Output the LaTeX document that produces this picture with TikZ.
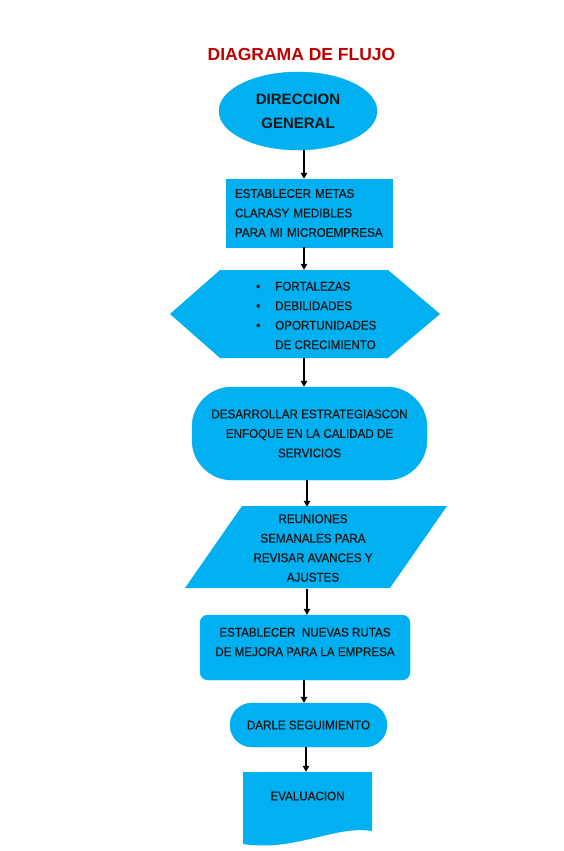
\documentclass[tikz,border=0pt]{standalone}
\usepackage{fontspec}
\setmainfont{Liberation Sans}
\newfontfamily\narrowfont[FakeStretch=0.93,FakeBold=0.4]{Liberation Sans}
\usetikzlibrary{shapes.geometric,arrows.meta}
\definecolor{boxblue}{HTML}{00B0F0}
\definecolor{titlered}{HTML}{C00000}
\definecolor{ink}{HTML}{161616}
\tikzset{
  shapefill/.style={fill=boxblue, draw=boxblue},
  boxtext/.style={font=\narrowfont\fontsize{12.5}{19.5}\selectfont, text=ink, align=center, inner sep=0pt},
  arr/.style={draw=black, line width=1.3pt, -{Triangle[length=6pt,width=6.5pt]}},
  ghost/.style={draw=none, inner sep=0pt},
}
\begin{document}
\begin{tikzpicture}[x=1pt,y=-1pt]
\fill[white] (0,0) rectangle (564,851);
\useasboundingbox (0,0) rectangle (564,851);

\node[font=\bfseries\fontsize{17.5}{20}\selectfont, text=titlered, inner sep=0pt] (title) at (301.5,54) {DIAGRAMA DE FLUJO};

\node[ellipse, shapefill, minimum width=158pt, minimum height=78pt, inner sep=0pt,
      font=\bfseries\fontsize{15}{24}\selectfont, text=ink, align=center] (dir) at (298,111) {DIRECCION\\GENERAL};

\node[rectangle, shapefill, minimum width=166pt, minimum height=68pt, boxtext, text width=148pt, align=left] (metas) at (309,213)
  {ESTABLECER METAS\\CLARASY MEDIBLES\\PARA MI MICROEMPRESA};

\fill[boxblue] (170,314) -- (220,270) -- (388,270) -- (440,314) -- (388,358) -- (220,358) -- cycle;
\node[ghost, minimum width=270pt, minimum height=88pt] (foda) at (305,314) {};
\node[boxtext, align=left, anchor=west] (fodatxt) at (256,315.5)
  {\makebox[19pt][l]{\textbullet}FORTALEZAS\\\makebox[19pt][l]{\textbullet}DEBILIDADES\\\makebox[19pt][l]{\textbullet}OPORTUNIDADES\\\hspace*{19pt}DE CRECIMIENTO};

\node[rectangle, rounded corners=40pt, shapefill, minimum width=235pt, minimum height=93pt, boxtext] (estr) at (309.5,433.5)
  {DESARROLLAR ESTRATEGIASCON\\ENFOQUE EN LA CALIDAD DE\\SERVICIOS};

\fill[boxblue] (242,506) -- (447,506) -- (390,588) -- (185,588) -- cycle;
\node[ghost, minimum width=262pt, minimum height=82pt, boxtext] (reun) at (313,548)
  {REUNIONES\\SEMANALES PARA\\REVISAR AVANCES Y\\AJUSTES};

\node[rectangle, rounded corners=8pt, shapefill, minimum width=210pt, minimum height=65pt] (rutas) at (305,647.5) {};
\node[boxtext] (rutastxt) at (305,642)
  {ESTABLECER\ \ NUEVAS RUTAS\\DE MEJORA PARA LA EMPRESA};

\node[rectangle, rounded corners=22pt, shapefill, minimum width=157pt, minimum height=44pt, boxtext] (seg) at (308.5,725)
  {DARLE SEGUIMIENTO};

\fill[boxblue] (243,772) -- (372,772) -- (372,831) .. controls (335,825) and (295,852) .. (243,844) -- cycle;
\node[ghost, minimum width=129pt, minimum height=73pt] (eval) at (307.5,808.5) {};
\node[boxtext] (evaltxt) at (307.5,796) {EVALUACION};

\draw[arr] ([xshift=6pt]dir.south) -- ([xshift=-5pt]metas.north);
\draw[arr] ([xshift=-5pt]metas.south) -- ([xshift=-1pt]foda.north);
\draw[arr] ([xshift=-1pt]foda.south) -- ([xshift=-5.5pt]estr.north);
\draw[arr] ([xshift=-2.5pt]estr.south) -- ([xshift=-6pt]reun.north);
\draw[arr] ([xshift=-6pt]reun.south) -- ([xshift=2pt]rutas.north);
\draw[arr] ([xshift=-1pt]rutas.south) -- ([xshift=-4.5pt]seg.north);
\draw[arr] ([xshift=-2.5pt]seg.south) -- ([xshift=-1.5pt]eval.north);
\end{tikzpicture}
\end{document}
